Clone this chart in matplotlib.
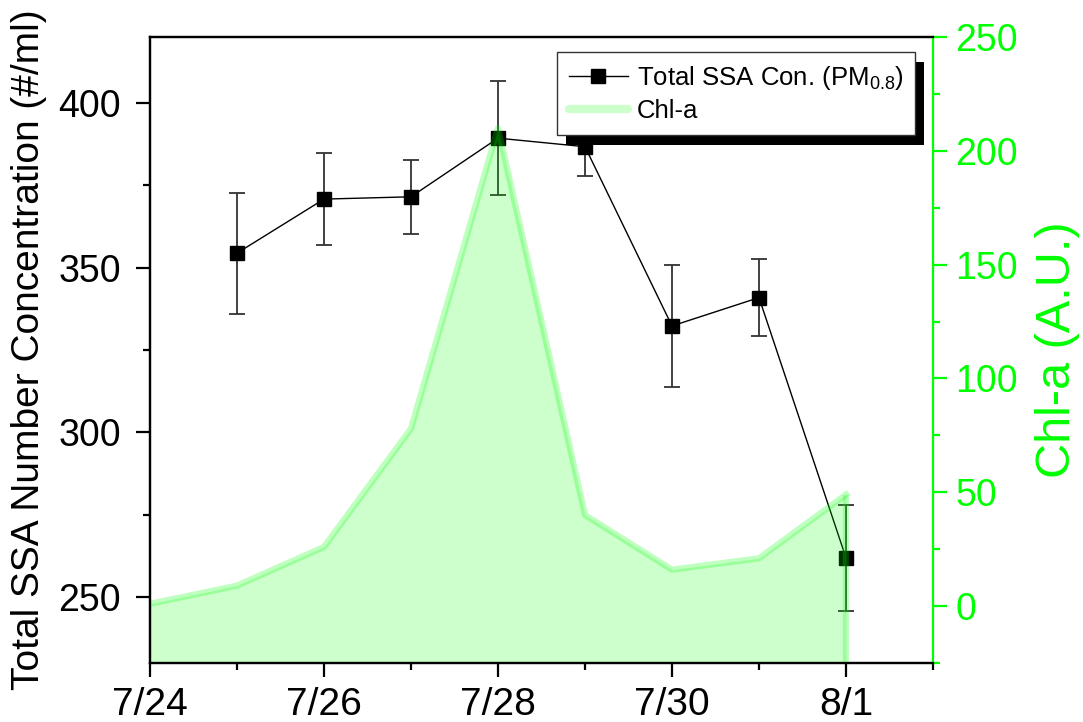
# SSA concentration vs Chl-a, two y axes
import numpy as np
import pandas as pd
import matplotlib
matplotlib.use('Agg')
from matplotlib import pyplot as plt
import matplotlib.dates as mdates
from matplotlib.lines import Line2D
from matplotlib.patches import Rectangle
from matplotlib.transforms import IdentityTransform

plt.rcParams['font.family'] = ['Liberation Sans', 'DejaVu Sans']
plt.rcParams['mathtext.fontset'] = 'custom'
plt.rcParams['mathtext.rm'] = 'Liberation Sans'
plt.rcParams['mathtext.default'] = 'regular'

# dados
chl_dates = ['7/24', '7/25', '7/26', '7/27', '7/28', '7/29', '7/30', '7/31', '8/1']
chl = [1, 9, 26, 78, 210, 40, 16, 21, 49]

ssa_dates = ['7/25', '7/26', '7/27', '7/28', '7/29', '7/30', '7/31', '8/1']
ssa = [354.4, 370.8, 371.5, 389.3, 386.7, 332.3, 340.9, 261.9]
ssa_err = [18.4, 14.0, 11.2, 17.3, 9.0, 18.5, 11.6, 16.2]

tick_dates = ['7/24', '7/26', '7/28', '7/30', '8/1']
x_start, x_end = '7/24', '8/2'

def to_date(lista):
    return pd.to_datetime(['2019/' + d for d in lista], format='%Y/%m/%d')

x_chl = to_date(chl_dates)
x_ssa = to_date(ssa_dates)
xlim = to_date([x_start, x_end])

green = '#00ff00'

fig = plt.figure(figsize=(10.83, 7.22), dpi=100)
ax1 = fig.add_axes([150/1083, 59/722, 783/1083, 626/722])
ax2 = ax1.twinx()

# serie SSA
ax1.errorbar(x_ssa, ssa, yerr=ssa_err, color='black', lw=1, marker='s', ms=9.5,
             ecolor='#333333', elinewidth=1.3, capsize=6, capthick=1.3, zorder=3)

# serie Chl-a
ax2.fill_between(x_chl, chl, -25, color=green, alpha=0.2, lw=0, zorder=1)
ax2.plot(x_chl, chl, color=green, alpha=0.25, lw=4.5, solid_joinstyle='round', zorder=2)
ax2.vlines(x_chl[-1], -25, chl[-1], color=green, alpha=0.25, lw=4.5, zorder=2)

ax1.set_xlim(xlim[0], xlim[1])
ax1.set_ylim(230, 420)
ax2.set_ylim(-25, 250)

ax1.set_xticks(to_date(tick_dates))
ax1.set_xticklabels(tick_dates, fontsize=28)
ax1.xaxis.set_minor_locator(mdates.DayLocator())
ax1.set_yticks([250, 300, 350, 400])
ax1.set_yticks(np.arange(250, 420, 25), minor=True)
ax2.set_yticks([0, 50, 100, 150, 200, 250])
ax2.set_yticks(np.arange(-25, 251, 25), minor=True)

for s in ax1.spines.values():
    s.set_linewidth(1.6)
for s in ax2.spines.values():
    s.set_linewidth(1.6)
ax2.spines['right'].set_color(green)
ax1.spines['right'].set_visible(False)

ax1.tick_params(axis='x', which='major', direction='out', length=10, width=1.6, pad=7)
ax1.tick_params(axis='x', which='minor', direction='out', length=5, width=1.6)
ax1.tick_params(axis='y', which='major', direction='out', length=10, width=1.6,
                pad=11, labelsize=27, right=False)
ax1.tick_params(axis='y', which='minor', direction='out', length=5, width=1.6, right=False)

# ticks no topo, para dentro
ax2.tick_params(axis='x', which='major', top=True, bottom=False, direction='in',
                length=11, width=1.6, labeltop=False, labelbottom=False)
ax2.tick_params(axis='x', which='minor', top=True, bottom=False, direction='in',
                length=5, width=1.6)
ax2.tick_params(axis='y', which='major', direction='out', length=10, width=1.6,
                colors=green, labelsize=27, pad=6)
ax2.tick_params(axis='y', which='minor', direction='out', length=5, width=1.6, colors=green)

ax1.set_ylabel('Total SSA Number Concentration (#/ml)', fontsize=28, labelpad=8)
ax2.set_ylabel('Chl-a (A.U.)', fontsize=35, color=green, labelpad=12)

handles = [Line2D([], [], color='black', lw=1, marker='s', ms=9.5),
           Line2D([], [], color=green, alpha=0.2, lw=6, solid_capstyle='round')]
leg = ax2.legend(handles, ['Total SSA Con. (PM$_{0.8}$)', 'Chl-a'],
                 loc='upper right', bbox_to_anchor=(0.977, 0.976), borderaxespad=0,
                 fontsize=18.5, fancybox=False, framealpha=1, edgecolor='#333333',
                 handlelength=2.3, handletextpad=0.35, labelspacing=0.3,
                 borderpad=0.45)
leg.get_frame().set_linewidth(1)
leg.set_zorder(5)

# sombra da legenda
fig.canvas.draw()
bb = leg.get_window_extent()
sombra = Rectangle((bb.x0 + 9, bb.y0 - 10), bb.width, bb.height,
                   transform=IdentityTransform(), facecolor='black', edgecolor='none',
                   zorder=4.9, clip_on=False)
ax2.add_artist(sombra)

fig.savefig('out.png', dpi=100)
